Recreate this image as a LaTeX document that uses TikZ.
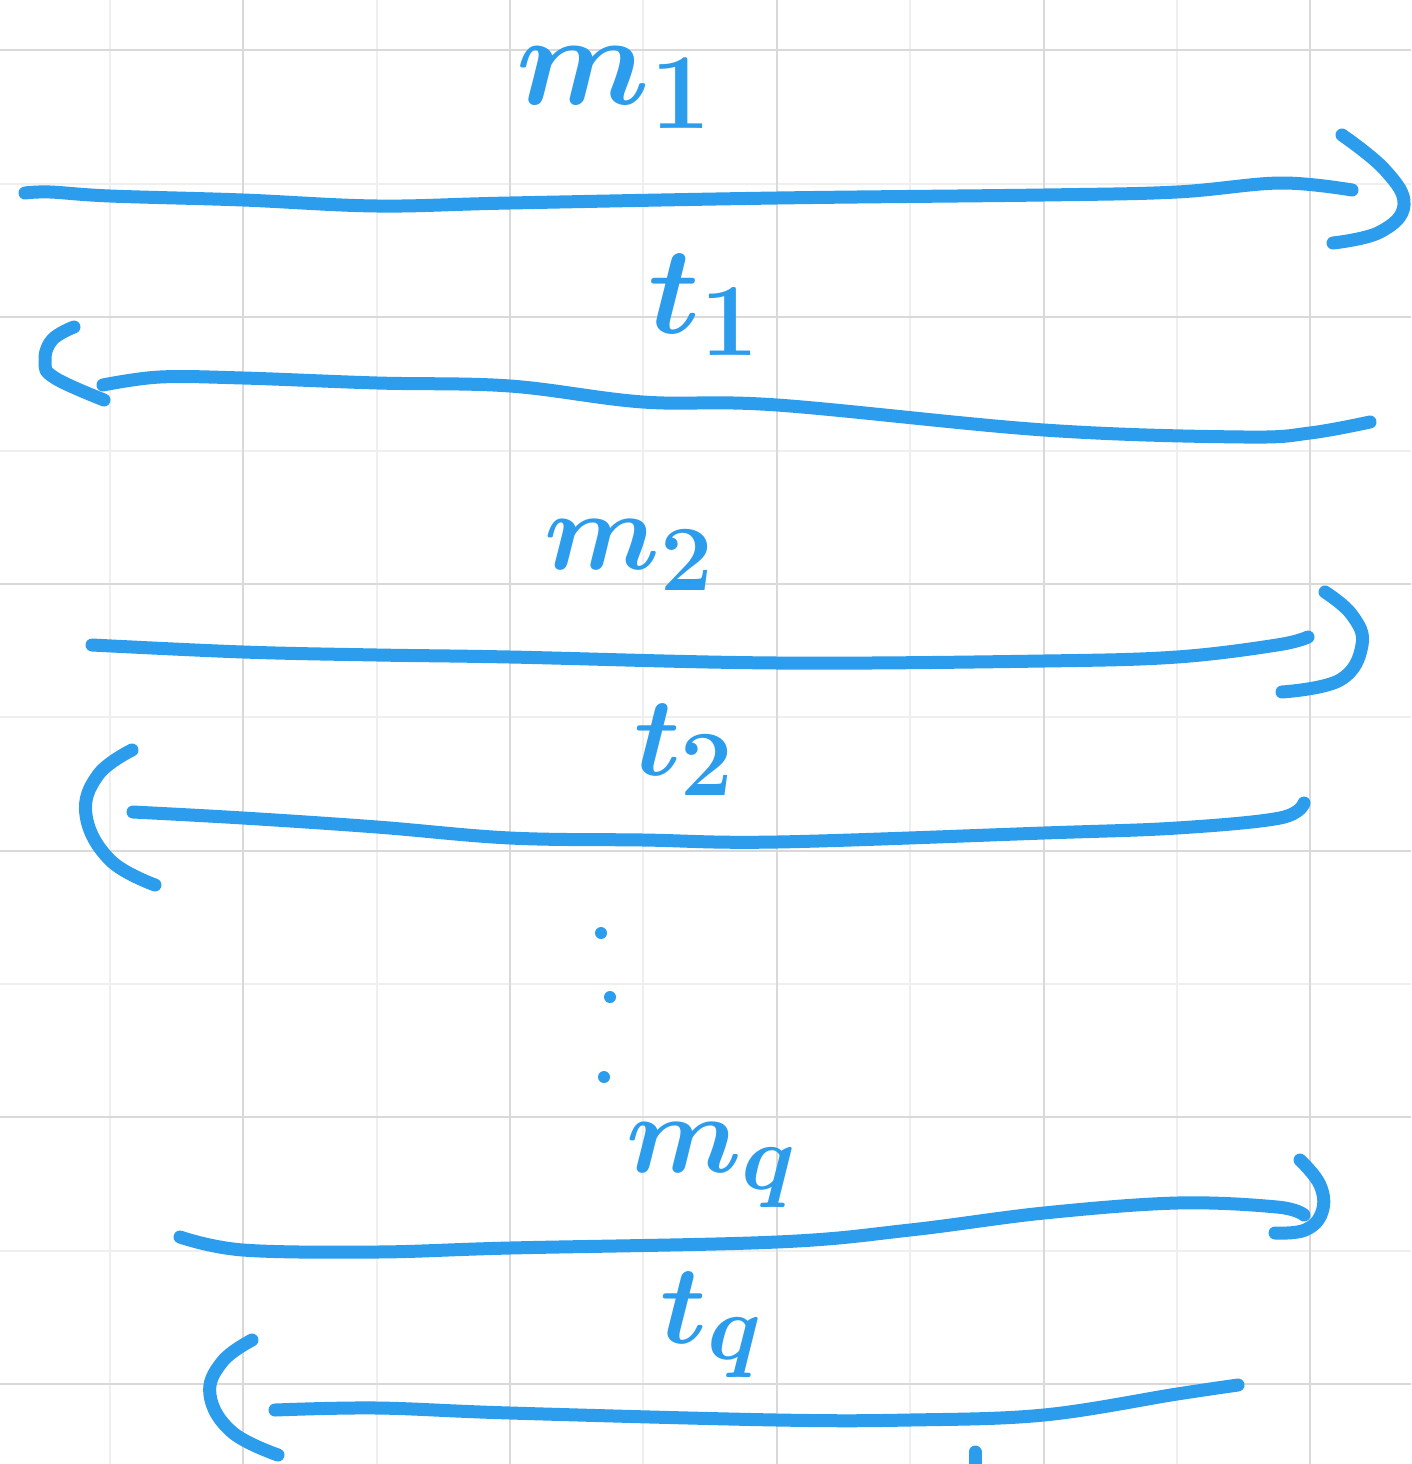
\documentclass[tikz,border=0pt]{standalone}
\usepackage{fontspec}
\definecolor{ink}{HTML}{2C9CEC}
\definecolor{gmaj}{HTML}{D9D9D9}
\definecolor{gmin}{HTML}{EFEFEF}
\begin{document}
\begin{tikzpicture}[x=1pt,y=-1pt,
  stroke/.style={ink,line width=13pt,line cap=round,line join=round},
  lbl/.style={ink,inner sep=0pt,font=\Huge\boldmath}]
\useasboundingbox (0,0) rectangle (1411,1464);
\fill[white] (0,0) rectangle (1411,1464);
% grid
\foreach \x in {110,377,643,910,1177} \draw[gmin,line width=2pt] (\x,0) -- (\x,1464);
\foreach \y in {184,451,717,984,1251} \draw[gmin,line width=2pt] (0,\y) -- (1411,\y);
\foreach \x in {243,510,777,1044,1310} \draw[gmaj,line width=2pt] (\x,0) -- (\x,1464);
\foreach \y in {50,317,584,851,1117,1384} \draw[gmaj,line width=2pt] (0,\y) -- (1411,\y);
% arrow 1 (right)
\draw[stroke] plot[smooth,tension=0.6] coordinates {(25,193) (50,192) (110,196) (243,200) (377,206) (510,203) (777,198) (1044,195) (1177,192) (1280,183) (1352,190)};
\draw[stroke] plot[smooth,tension=0.7] coordinates {(1342,135) (1385,170) (1404,205) (1380,232) (1333,243)};
% arrow 2 (left)
\draw[stroke] plot[smooth,tension=0.6] coordinates {(1370,422) (1310,433) (1244,437) (1044,430) (777,405) (643,402) (510,386) (377,383) (243,378) (160,377) (103,385)};
\draw[stroke] plot[smooth,tension=0.7] coordinates {(74,327) (52,340) (45,362) (55,378) (104,400)};
% arrow 3 (right)
\draw[stroke] plot[smooth,tension=0.6] coordinates {(92,645) (243,652) (377,655) (510,657) (777,663) (1044,661) (1177,657) (1277,645) (1308,637)};
\draw[stroke] plot[smooth,tension=0.7] coordinates {(1325,592) (1352,615) (1362,645) (1340,680) (1282,692)};
% arrow 4 (left)
\draw[stroke] plot[smooth,tension=0.6] coordinates {(1304,803) (1280,818) (1177,828) (1044,833) (777,842) (643,840) (510,838) (377,827) (243,818) (133,812)};
\draw[stroke] plot[smooth,tension=0.7] coordinates {(132,750) (98,775) (86,815) (110,860) (155,885)};
% arrow 5 (right)
\draw[stroke] plot[smooth,tension=0.6] coordinates {(180,1237) (243,1250) (377,1252) (510,1248) (777,1242) (910,1230) (1044,1213) (1177,1203) (1277,1207) (1304,1215)};
\draw[stroke] plot[smooth,tension=0.7] coordinates {(1300,1160) (1320,1185) (1322,1212) (1305,1230) (1275,1233)};
% arrow 6 (left)
\draw[stroke] plot[smooth,tension=0.6] coordinates {(1238,1385) (1177,1394) (1044,1415) (910,1420) (777,1420) (510,1413) (377,1408) (275,1410)};
\draw[stroke] plot[smooth,tension=0.7] coordinates {(252,1340) (222,1362) (210,1395) (232,1432) (278,1455)};
% bottom tick
\draw[stroke] (975,1452) -- (975,1470);
% labels
\node[lbl] (m1) at (615,88) {\scalebox{5.2}{$m_1$}};
\node[lbl] (t1) at (705,305) {\scalebox{5}{$t_1$}};
\node[lbl] (m2) at (630,555) {\scalebox{4.5}{$m_2$}};
\node[lbl] (t2) at (685,750) {\scalebox{4.5}{$t_2$}};
\node[lbl] (mq) at (712,1165) {\scalebox{4.5}{$m_q$}};
\node[lbl] (tq) at (712,1325) {\scalebox{4.5}{$t_q$}};
% dots
\fill[ink] (601,933) circle (6);
\fill[ink] (610,997) circle (6);
\fill[ink] (604,1077) circle (6);
\end{tikzpicture}
\end{document}
